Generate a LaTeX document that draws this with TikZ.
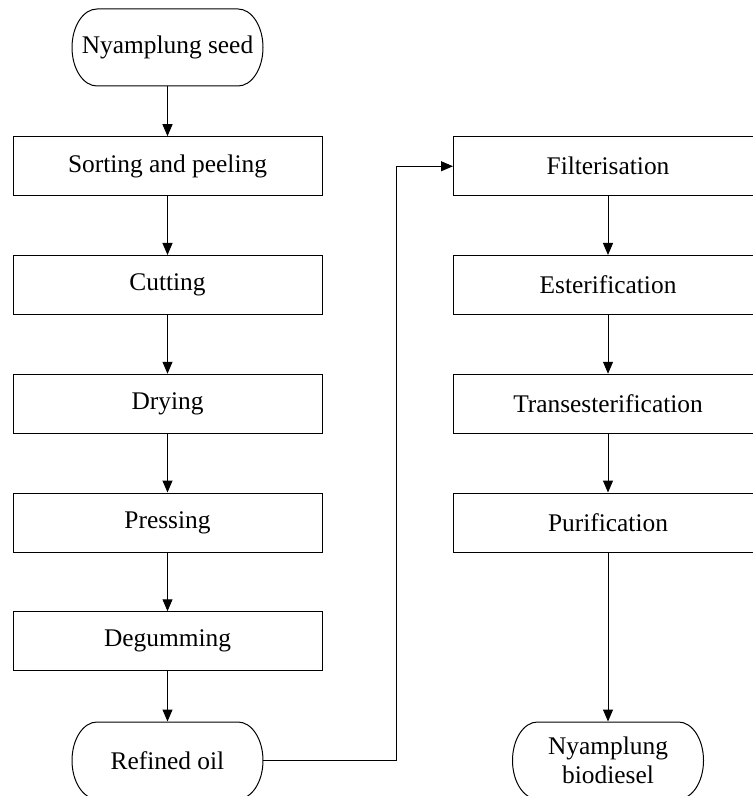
\documentclass[tikz,border=0pt]{standalone}
\usepackage{fontspec}
\setmainfont{Liberation Serif}
\usetikzlibrary{arrows.meta}

\begin{document}
\begin{tikzpicture}[x=0.5pt, y=-0.5pt,
  base/.style={line width=0.5pt, font=\fontsize{12.7}{14.5}\selectfont,
               align=center, inner sep=0},
  stage/.style={base, draw=black, minimum width=154.5pt, minimum height=29.5pt},
  term/.style={base, minimum width=70.5pt, minimum height=38.5pt},
  flow/.style={-{Triangle[length=6pt,width=5pt]}, line width=0.5pt},
]
\useasboundingbox (0,0) rectangle (753,796);
\clip (0,0) rectangle (753,796);
% start and end terminals (outline drawn below)
\node[term] (seed) at (167.5,47.5) {Nyamplung seed};
\node[term] (oil) at (167.5,760.5) {Refined oil};
\node[term] (biod) at (608,760.5) {Nyamplung\\biodiesel};
\foreach \t in {seed, oil, biod} {
  \draw[line width=0.5pt] ([shift={(-70.5,-38.5)}]\t.center)
    arc[start angle=90, end angle=270, x radius=12.5pt, y radius=19.25pt]
    -- ([shift={(70.5,38.5)}]\t.center)
    arc[start angle=-90, end angle=90, x radius=12.5pt, y radius=19.25pt]
    -- cycle;
}
% ---- left column: seed to oil
\foreach \name/\txt [count=\i] in {sort/Sorting and peeling, cut/Cutting, dry/Drying,
                                   press/Pressing, degum/Degumming} {
  \node[stage] (\name) at (167.5, 47.5+\i*118.75) {\txt};
}
% ---- right column: oil to biodiesel
\foreach \name/\txt [count=\i] in {filt/Filterisation, ester/Esterification,
                                   trans/Transesterification, purif/Purification} {
  \node[stage] (\name) at (608, 47.5+\i*118.75) {\txt};
}
% straight links down each column
\foreach \a/\b in {seed/sort, sort/cut, cut/dry, dry/press, press/degum, degum/oil,
                   filt/ester, ester/trans, trans/purif, purif/biod} {
  \draw[flow] (\a.south) -- (\b.north);
}
% oil goes over to the second column
\coordinate (oilend) at ([shift={(95.5,0)}]oil.center);
\coordinate (bend) at (396,760.5);
\draw[flow] (oilend) -- (bend) |- (filt.west);
\end{tikzpicture}
\end{document}
